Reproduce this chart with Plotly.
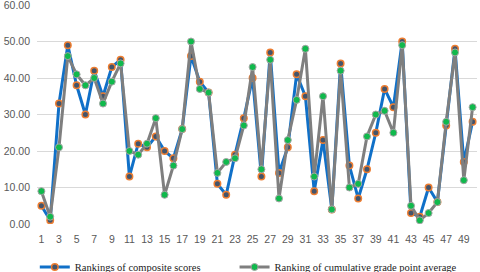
import plotly.graph_objects as go

students = list(range(1, 51))
composite = [5, 1, 33, 49, 38, 30, 42, 35, 43, 45,
             13, 22, 21, 24, 20, 18, 26, 46, 39, 36,
             11, 8, 19, 29, 40, 13, 47, 14, 21, 41,
             35, 9, 23, 4, 44, 16, 7, 15, 25, 37,
             32, 50, 3, 2, 10, 6, 27, 48, 17, 28]
gpa = [9, 2, 21, 46, 41, 38, 40, 33, 39, 44,
       20, 19, 22, 29, 8, 16, 26, 50, 37, 36,
       14, 17, 18, 27, 43, 15, 45, 7, 23, 34,
       48, 13, 35, 4, 42, 10, 11, 24, 30, 31,
       25, 49, 5, 1, 3, 6, 28, 47, 12, 32]
xticks = list(range(1, 50, 2))
yticks = [0, 10, 20, 30, 40, 50, 60]

fig = go.Figure()
fig.add_trace(go.Scatter(
    x=students, y=composite, mode="lines+markers",
    name="Rankings of composite scores", legend="legend",
    line=dict(color="#1070C8", width=3),
    marker=dict(size=6.5, color="#44546A", line=dict(color="#ED7D31", width=1.5)),
))
fig.add_trace(go.Scatter(
    x=students, y=gpa, mode="lines+markers",
    name="Ranking of cumulative grade point average", legend="legend2",
    line=dict(color="#7F7F7F", width=3),
    marker=dict(size=7, color="#10B94C", line=dict(color="#A5A5A5", width=1)),
))

legend_font = dict(family="Liberation Serif", size=10.5, color="#222222")
fig.update_layout(
    width=480, height=272,
    margin=dict(l=37, r=3, t=5, b=48, autoexpand=False),
    plot_bgcolor="white", paper_bgcolor="white",
    showlegend=True,
    legend=dict(orientation="h", x=-0.005, xanchor="left", y=-0.13, yanchor="top",
                font=legend_font, itemwidth=30, bgcolor="rgba(0,0,0,0)"),
    legend2=dict(orientation="h", x=0.449, xanchor="left", y=-0.13, yanchor="top",
                 font=legend_font, itemwidth=30, bgcolor="rgba(0,0,0,0)"),
    font=dict(family="Liberation Sans", size=10.5, color="#595959"),
)
fig.update_xaxes(range=[0.5, 50.5], tickvals=xticks, showgrid=False,
                 zeroline=False, showline=False, ticks="", automargin=False,
                 ticklabelstandoff=7,
                 tickfont=dict(size=10.5, color="#595959"))
fig.update_yaxes(range=[0, 60], tickvals=yticks, tickformat=".2f",
                 showgrid=True, gridcolor="#D9D9D9", gridwidth=1,
                 zeroline=False, showline=False, ticks="", automargin=False,
                 ticklabeloverflow="allow", ticklabelstandoff=6,
                 tickfont=dict(size=10.5, color="#595959"))

fig.write_html("out.html", config={"displayModeBar": False},
               post_script="document.body.style.margin='0';document.body.style.padding='0';")
